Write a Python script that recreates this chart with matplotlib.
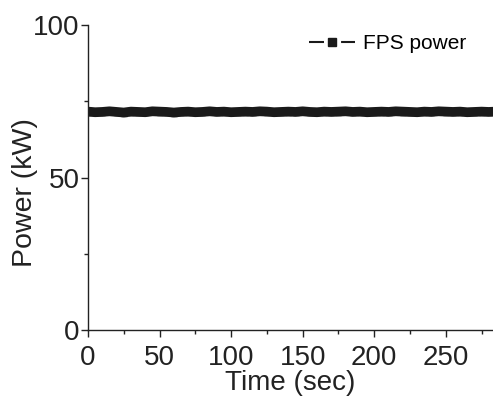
import matplotlib
matplotlib.use("Agg")
import matplotlib.pyplot as plt
from matplotlib.ticker import MultipleLocator

plt.rcParams['font.family'] = ['Liberation Sans', 'DejaVu Sans']

time_sec = [0, 5, 10, 15, 20, 25, 30, 35, 40, 45, 50, 55, 60, 65, 70, 75, 80, 85, 90, 95,
            100, 105, 110, 115, 120, 125, 130, 135, 140, 145, 150, 155, 160, 165, 170, 175,
            180, 185, 190, 195, 200, 205, 210, 215, 220, 225, 230, 235, 240, 245, 250, 255,
            260, 265, 270, 275, 280, 285]
fps_power = [71.6, 71.4, 71.5, 71.7, 71.5, 71.3, 71.6, 71.5, 71.4, 71.7, 71.6, 71.5, 71.3, 71.5,
             71.6, 71.4, 71.5, 71.7, 71.5, 71.6, 71.4, 71.5, 71.6, 71.5, 71.7, 71.6, 71.4, 71.5,
             71.6, 71.5, 71.7, 71.5, 71.4, 71.6, 71.5, 71.6, 71.7, 71.5, 71.6, 71.4, 71.5, 71.6,
             71.5, 71.7, 71.6, 71.5, 71.4, 71.6, 71.5, 71.7, 71.6, 71.5, 71.6, 71.4, 71.5, 71.6,
             71.5, 71.6]
x_ticks = [0, 50, 100, 150, 200, 250]
y_ticks = [0, 50, 100]

fig = plt.figure(figsize=(4.93, 3.97), dpi=100)
ax = fig.add_axes([88/493, 1 - 330/397, (493 - 88)/493, (330 - 25)/397])

ax.plot(time_sec, fps_power, color='#1a1a1a', linewidth=7, marker='s', markersize=5,
        label='FPS power', solid_capstyle='butt')
ax.set_xlim(0, 283)
ax.set_ylim(0, 100)
ax.set_xticks(x_ticks)
ax.set_yticks(y_ticks)
ax.xaxis.set_minor_locator(MultipleLocator(25))
ax.yaxis.set_minor_locator(MultipleLocator(25))

for s in ['top', 'right']:
    ax.spines[s].set_visible(False)
for s in ['left', 'bottom']:
    ax.spines[s].set_linewidth(1.0)
    ax.spines[s].set_color('#222222')

ax.tick_params(axis='both', which='major', direction='out', length=5, width=1,
               labelsize=20, colors='#222222', pad=1)
ax.tick_params(axis='both', which='minor', direction='out', length=3, width=1, colors='#222222')
ax.tick_params(axis='x', which='major', pad=6)

ax.set_xlabel('Time (sec)', fontsize=20, color='#222222', labelpad=-1)
ax.set_ylabel('Power (kW)', fontsize=20.5, color='#222222')
ax.yaxis.set_label_coords(-0.123, 0.45)

leg = ax.legend(loc='upper right', bbox_to_anchor=(0.97, 1.018), frameon=False, fontsize=15,
                handlelength=2.2, handletextpad=0.4, borderaxespad=0.3)
for h in leg.legend_handles:
    h.set_linewidth(1.5)
    h.set_markersize(6)
    h.set_linestyle((0, (7.2, 8.2)))

fig.savefig('out.png', dpi=100)
